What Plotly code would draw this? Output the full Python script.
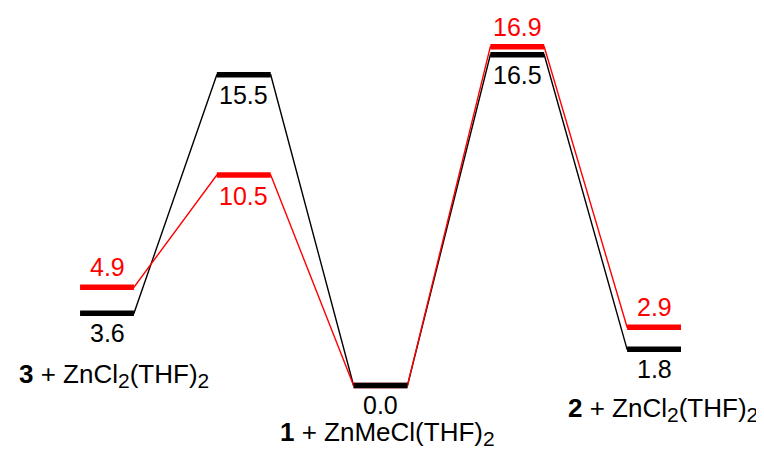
import plotly.graph_objects as go

# Data
states = [1, 2, 3, 4, 5]
black_vals = [3.6, 15.5, 0.0, 16.5, 1.8]
red_vals = [4.9, 10.5, 0.0, 16.9, 2.9]
black_labels = ["3.6", "15.5", "0.0", "16.5", "1.8"]
red_labels = ["4.9", "10.5", None, "16.9", "2.9"]
red_label_above = [True, False, None, True, True]
SUB2 = "<sub><span style='font-size:21px'>2</span></sub>"
species = ["<b>3</b> + ZnCl" + SUB2 + "(THF)" + SUB2, None,
           "<b>1</b> + ZnMeCl(THF)" + SUB2, None,
           "<b>2</b> + ZnCl" + SUB2 + "(THF)" + SUB2]
species_shift = [(7, -62), None, (7, -48), None, (9, -60)]

HW = 0.197
FONT = "Liberation Sans, Arial, Helvetica, sans-serif"
FS_NUM = 25
FS_LAB = 26


def path(vals):
    xs, ys = [], []
    for s, v in zip(states, vals):
        xs += [s - HW, s + HW]
        ys += [v, v]
    return xs, ys


def bars(vals):
    xs, ys = [], []
    for s, v in zip(states, vals):
        xs += [s - HW, s + HW, None]
        ys += [v, v, None]
    return xs, ys


fig = go.Figure()
for vals, col in [(black_vals, "black"), (red_vals, "red")]:
    xs, ys = path(vals)
    fig.add_trace(go.Scatter(x=xs, y=ys, mode="lines",
                             line=dict(color=col, width=1.4),
                             hoverinfo="skip", showlegend=False))
for vals, col in [(red_vals, "red"), (black_vals, "black")]:
    xs, ys = bars(vals)
    fig.add_trace(go.Scatter(x=xs, y=ys, mode="lines",
                             line=dict(color=col, width=5.5),
                             hoverinfo="skip", showlegend=False))

ann = []
for s, v, t in zip(states, black_vals, black_labels):
    ann.append(dict(x=s, y=v, text=t, showarrow=False, yshift=-20,
                    font=dict(color="black", size=FS_NUM, family=FONT)))
for s, v, t, up in zip(states, red_vals, red_labels, red_label_above):
    if t is None:
        continue
    ann.append(dict(x=s, y=v, text=t, showarrow=False,
                    yshift=20 if up else -21,
                    font=dict(color="red", size=FS_NUM, family=FONT)))
for s, v, t, sh in zip(states, black_vals, species, species_shift):
    if t is None:
        continue
    ann.append(dict(x=s, y=v, text=t, showarrow=False,
                    xshift=sh[0], yshift=sh[1],
                    font=dict(color="black", size=FS_LAB, family=FONT)))

fig.update_layout(
    width=756, height=443,
    margin=dict(l=0, r=0, t=0, b=0),
    paper_bgcolor="white", plot_bgcolor="white",
    xaxis=dict(range=[0.276, 5.804], visible=False, fixedrange=True),
    yaxis=dict(range=[-3.27, 18.83], visible=False, fixedrange=True),
    annotations=ann,
    showlegend=False,
)
fig.write_html("out.html")
